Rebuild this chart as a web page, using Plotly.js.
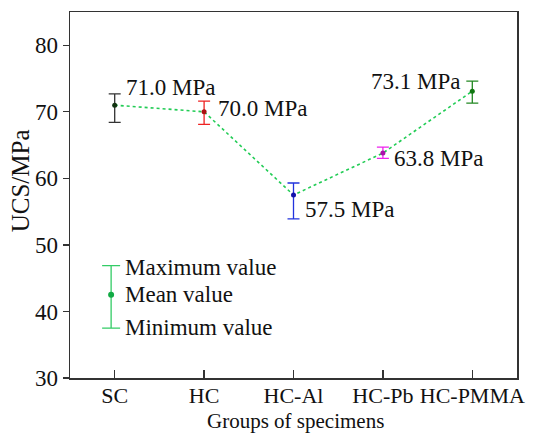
<!DOCTYPE html>
<html>
<head>
<meta charset="utf-8">
<script src="https://cdn.plot.ly/plotly-3.0.1.min.js"></script>
<style>html,body{margin:0;padding:0;background:#fff;}#chart{width:540px;height:434px;}</style>
</head>
<body>
<div id="chart"></div>
<script>
const categories = ['SC', 'HC', 'HC-Al', 'HC-Pb', 'HC-PMMA'];
const meanValues = [71.0, 70.0, 57.5, 63.8, 73.1];
const maxValues = [72.7, 71.6, 59.3, 64.7, 74.6];
const minValues = [68.4, 68.1, 53.9, 63.0, 71.3];
const groupColors = ['#333333', '#ee2222', '#2233dd', '#ee22ee', '#228822'];
const meanMarkerColors = ['#113311', '#aa1111', '#1111aa', '#aa11aa', '#117711'];
const labelShift = [[9, 18], [12, 3], [9, -14], [9, -5], [-10, 10]];

const legendKeyX = [-0.04];
const legendKeyMean = [42.5];
const legendKeyMax = [46.9];
const legendKeyMin = [37.5];
const legendTexts = ['Maximum value', 'Mean value', 'Minimum value'];

const FONT = 'Liberation Serif, Times New Roman, serif';
const FS = 23;
const xs = categories.map((c, i) => i);

const traces = [];
traces.push({
  x: xs, y: meanValues, mode: 'lines', type: 'scatter',
  line: {color: '#22cc55', width: 1.6, dash: 'dot'}, hoverinfo: 'skip', showlegend: false
});
categories.forEach((c, i) => {
  traces.push({
    x: [xs[i]], y: [meanValues[i]], mode: 'markers', type: 'scatter', showlegend: false,
    marker: {color: meanMarkerColors[i], size: 5},
    error_y: {type: 'data', symmetric: false,
      array: [maxValues[i] - meanValues[i]], arrayminus: [meanValues[i] - minValues[i]],
      color: groupColors[i], thickness: 1.3, width: 6}
  });
});
traces.push({
  x: legendKeyX, y: legendKeyMean, mode: 'markers', type: 'scatter', showlegend: false,
  marker: {color: '#11aa44', size: 6},
  error_y: {type: 'data', symmetric: false,
    array: [legendKeyMax[0] - legendKeyMean[0]], arrayminus: [legendKeyMean[0] - legendKeyMin[0]],
    color: '#33cc66', thickness: 1.3, width: 9}
});

const annotations = categories.map((c, i) => ({
  x: xs[i], y: meanValues[i], xref: 'x', yref: 'y',
  text: meanValues[i].toFixed(1) + ' MPa', showarrow: false,
  xanchor: labelShift[i][0] >= 0 ? 'left' : 'right', yanchor: 'middle',
  xshift: labelShift[i][0], yshift: labelShift[i][1],
  font: {family: FONT, size: FS, color: '#111'}
}));
const legendYs = [legendKeyMax[0], legendKeyMean[0], legendKeyMin[0]];
legendTexts.forEach((t, k) => {
  annotations.push({
    x: legendKeyX[0], y: legendYs[k], xref: 'x', yref: 'y', text: t, showarrow: false,
    xanchor: 'left', yanchor: 'middle', xshift: 12, yshift: k === 0 ? -2 : (k === 2 ? 1 : 0),
    font: {family: FONT, size: FS, color: '#111'}
  });
});
annotations.push({
  xref: 'paper', yref: 'paper', x: 0.505, y: -0.1175, text: 'Groups of specimens',
  showarrow: false, xanchor: 'center', yanchor: 'middle',
  font: {family: FONT, size: 21, color: '#111'}
});
annotations.push({
  xref: 'paper', yref: 'paper', x: -0.112, y: 0.54, text: 'UCS/MPa', textangle: -90,
  showarrow: false, xanchor: 'center', yanchor: 'middle',
  font: {family: FONT, size: 25, color: '#111'}
});

const layout = {
  width: 540, height: 434,
  margin: {l: 70, r: 23, t: 12, b: 56},
  paper_bgcolor: '#fff', plot_bgcolor: '#fff',
  font: {family: FONT, size: FS, color: '#111'},
  showlegend: false,
  xaxis: {
    range: [-0.5, 4.5], tickmode: 'array', tickvals: xs, ticktext: categories,
    ticks: 'inside', ticklen: 8, tickwidth: 1.3, tickcolor: '#333',
    ticklabelstandoff: -3,
    showline: true, linecolor: '#333', linewidth: 1.5, mirror: true,
    showgrid: false, zeroline: false,
    tickfont: {family: FONT, size: 22, color: '#111'}
  },
  yaxis: {
    range: [30, 85], tickvals: [30, 40, 50, 60, 70, 80],
    ticks: 'outside', ticklen: 6, tickwidth: 1.3, tickcolor: '#333',
    showline: true, linecolor: '#333', linewidth: 1.5, mirror: true,
    showgrid: false, zeroline: false,
    tickfont: {family: FONT, size: FS, color: '#111'}
  },
  annotations: annotations
};

Plotly.newPlot('chart', traces, layout, {displayModeBar: false, staticPlot: true});
</script>
</body>
</html>
